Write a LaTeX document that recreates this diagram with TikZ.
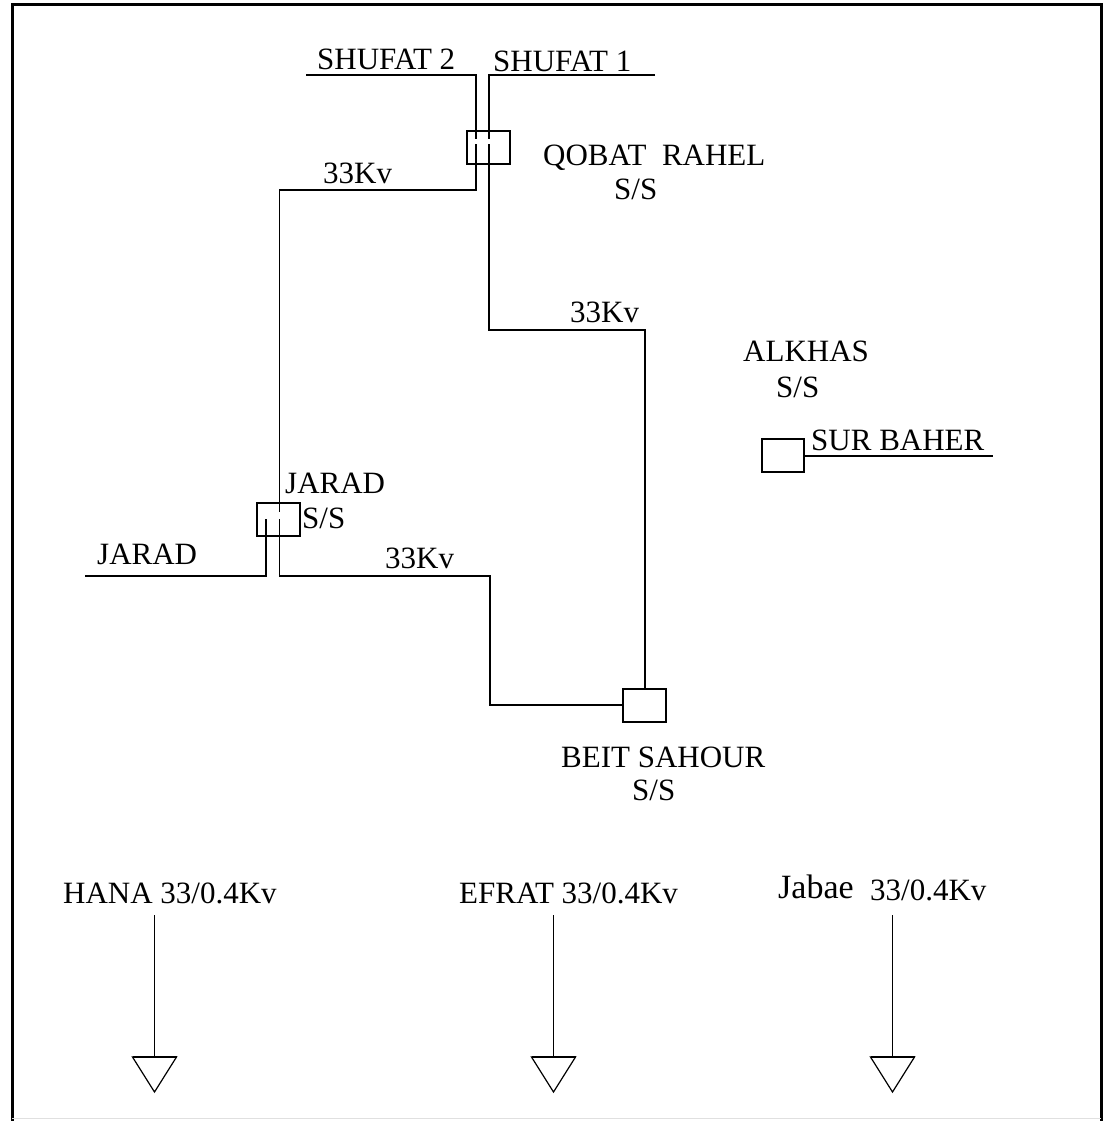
\documentclass[tikz,border=0pt]{standalone}
\usepackage{fontspec}
\setmainfont{Liberation Serif}
\begin{document}
\begin{tikzpicture}[x=1pt,y=-1pt,
  wire/.style={line width=1.8pt, line cap=butt, line join=miter},
  lbl/.style={inner sep=0pt, anchor=base west, font=\fontsize{31}{36}\selectfont},
  ssbox/.style={draw, line width=1.8pt, minimum width=43pt, minimum height=33pt, inner sep=0pt},
  loadtri/.style={line width=1.2pt}]
\useasboundingbox (0,0) rectangle (1108,1121);
% frame
\draw[line width=3pt] (12,1121) -- (12,5) -- (1101,5) -- (1101,1121);
\draw[line width=1pt, black!12] (12,1118) -- (1101,1118);

% substation boxes
\node[ssbox] (qobat) at (488.5,147.5) {};
\node[ssbox] (jarad) at (278.5,519.5) {};
\node[ssbox] (beit)  at (644.5,705.5) {};
\node[ssbox, minimum width=42pt] (surb) at (783,455.5) {};

% labels
\node[lbl] (tshu2) at (317,70) {SHUFAT 2};
\node[lbl] (tshu1) at (493,72) {SHUFAT 1};
\node[lbl] (tkv1) at (323,183) {33Kv};
\node[lbl] (tqob) at (543,165) {QOBAT\ \ RAHEL};
\node[lbl] (tqobs) at (614,199) {S/S};
\node[lbl] (tkv2) at (570,322) {33Kv};
\node[lbl] (talk) at (743,361) {ALKHAS};
\node[lbl] (talks) at (776,397) {S/S};
\node[lbl] (tsur) at (811,450) {SUR BAHER};
\node[lbl] (tjar) at (285,493) {JARAD};
\node[lbl] (tjars) at (302,528) {S/S};
\node[lbl] (tjar2) at (97,564) {JARAD};
\node[lbl] (tkv3) at (385,568) {33Kv};
\node[lbl] (tbeit) at (561,767) {BEIT SAHOUR};
\node[lbl] (tbeits) at (632,800) {S/S};
\node[lbl] (thana) at (63,903) {HANA 33/0.4Kv};
\node[lbl] (tefr) at (459,903) {EFRAT 33/0.4Kv};
\node[lbl, font=\fontsize{34}{38}\selectfont] (tjab) at (778,898) {Jabae};
\node[lbl] (tjabv) at (870,900) {33/0.4Kv};

% coordinates
\coordinate (s2w) at (306,75);
\coordinate (s2c) at (476,75);
\coordinate (s2in) at (476,139);
\coordinate (s2out) at (476,144);
\coordinate (s2b) at (476,190);
\coordinate (jc1) at (279.5,190);
\coordinate (jin) at (279.5,512);
\coordinate (s1e) at (655,75);
\coordinate (s1c) at (489,75);
\coordinate (s1in) at (489,139);
\coordinate (s1out) at (489,144);
\coordinate (s1b) at (489,330);
\coordinate (bc1) at (645,330);
\coordinate (jo1) at (279.5,519);
\coordinate (jo1b) at (279.5,576);
\coordinate (bc2) at (490,576);
\coordinate (bc3) at (490,705);
\coordinate (jo2) at (266,519);
\coordinate (jo2b) at (266,576);
\coordinate (jw) at (85,576);
\coordinate (sure) at (993,456);

% feeders
\draw[wire] (s2w) -- (s2c) -- (s2in);
\draw[wire] (s2out) -- (s2b) -- (jc1) -- (jin);
\draw[wire] (s1e) -- (s1c) -- (s1in);
\draw[wire] (s1out) -- (s1b) -- (bc1) -- (beit.north -| bc1);
\draw[wire] (jo1) -- (jo1b) -- (bc2) -- (bc3) -- (beit.west |- bc3);
\draw[wire] (jo2) -- (jo2b) -- (jw);
\draw[wire] (surb.east |- sure) -- (sure);

% loads
\foreach \n/\x in {hana/154.5, efrat/553.5, jabae/892.5}{
  \coordinate (\n top) at (\x,915);
  \coordinate (\n tri) at (\x,1057);
  \draw[line width=1.5pt] (\n top) -- (\n tri);
  \draw[loadtri] ([xshift=-22pt]\n tri) -- ([xshift=22pt]\n tri) -- ([yshift=-35pt]\n tri) -- cycle;
  \draw[line width=2pt] ([xshift=-22pt]\n tri) -- ([xshift=22pt]\n tri);
}
\end{tikzpicture}
\end{document}
